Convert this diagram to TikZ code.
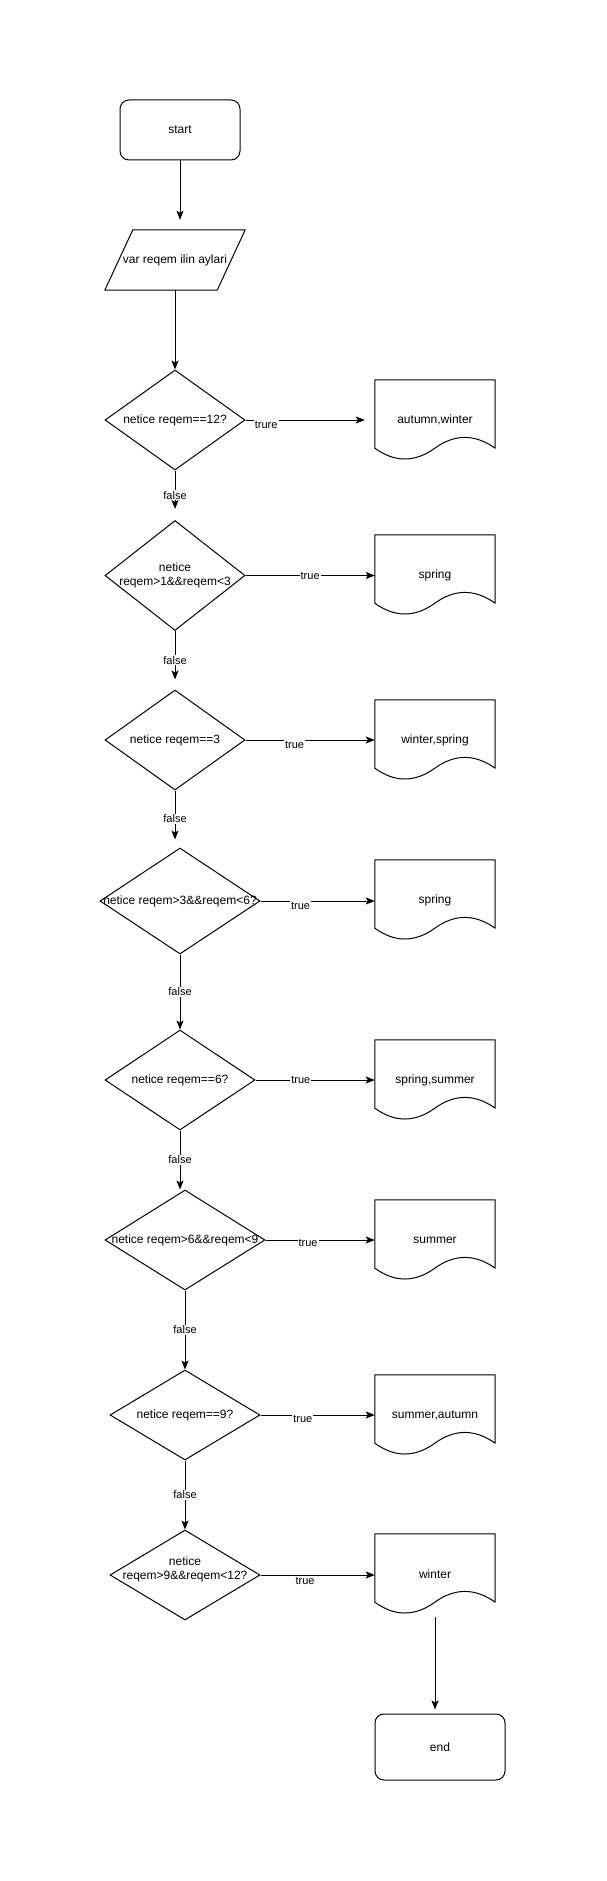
\documentclass[tikz,border=0pt]{standalone}
\usepackage{fontspec}
\setmainfont{Liberation Sans}
\usetikzlibrary{arrows.meta, calc, shapes.geometric}
\tikzset{
  flowtext/.style   = {font=\fontsize{12}{14}\selectfont, align=center, inner sep=0pt},
  flowterm/.style   = {draw, line width=1pt, rounded corners=9pt, flowtext},
  flowinput/.style  = {minimum width=140pt, minimum height=60pt, flowtext},
  flowdecide/.style 2 args = {diamond, draw, line width=1pt, inner sep=0pt,
                       minimum width=#1, minimum height=#2},
  flowdoc/.style    = {minimum width=120pt, minimum height=80pt, flowtext},
  docline/.style    = {draw, line width=1pt, line join=round},
  flowedge/.style   = {draw, line width=1pt,
                       -{Stealth[length=9pt, width=7pt, inset=2pt]}},
  flowlabel/.style  = {fill=white, inner sep=1pt, font=\fontsize{11}{13}\selectfont},
}

\begin{document}
\begin{tikzpicture}[x=1pt, y=-1pt]
  \useasboundingbox (0,0) rectangle (606,1881);
  % start and input
  \node[flowterm, minimum width=120pt, minimum height=60pt] (start) at (180,130) {start};
  \node[flowinput] (input) at (175,260) {var reqem ilin aylari};
  \draw[docline] ($(input.north west)+(28pt,0pt)$) -- (input.north east)
    -- ($(input.south east)+(-28pt,0pt)$) -- (input.south west) -- cycle;
  % decisions
  \node[flowdecide={140pt}{100pt}, label={[flowtext]center:netice reqem==12?}] (D1) at (175,420) {};
  \node[flowdecide={140pt}{110pt}, label={[flowtext]center:{netice\\reqem>1\&\&reqem<3}}] (D2) at (175,575.5) {};
  \node[flowdecide={140pt}{100pt}, label={[flowtext]center:netice reqem==3}] (D3) at (175,740) {};
  \node[flowdecide={160pt}{106pt}, label={[flowtext]center:{netice reqem>3\&\&reqem<6?}}] (D4) at (180,901) {};
  \node[flowdecide={150pt}{100pt}, label={[flowtext]center:netice reqem==6?}] (D5) at (180,1080) {};
  \node[flowdecide={160pt}{100pt}, label={[flowtext]center:{netice reqem>6\&\&reqem<9}}] (D6) at (185,1240) {};
  \node[flowdecide={150pt}{90pt}, label={[flowtext]center:netice reqem==9?}] (D7) at (185,1415) {};
  \node[flowdecide={150pt}{90pt}, label={[flowtext, yshift=6pt]center:{netice\\reqem>9\&\&reqem<12?}}] (D8) at (185,1575) {};
  % documents
  \node[flowdoc] (W1) at (435,420) {autumn,winter};
  \node[flowdoc] (W2) at (435,575) {spring};
  \node[flowdoc] (W3) at (435,740) {winter,spring};
  \node[flowdoc] (W4) at (435,900) {spring};
  \node[flowdoc] (W5) at (435,1080) {spring,summer};
  \node[flowdoc] (W6) at (435,1240) {summer};
  \node[flowdoc] (W7) at (435,1415) {summer,autumn};
  \node[flowdoc] (W8) at (435,1574) {winter};
  \foreach \d in {W1,W2,W3,W4,W5,W6,W7,W8}
    \draw[docline] (\d.north west) -- (\d.north east) -- ($(\d.south east)+(0pt,12pt)$)
      .. controls ($(\d.south west)+(100pt,26.4pt)$) and ($(\d.south west)+(80pt,26.4pt)$)
      .. ($(\d.south west)+(60pt,12pt)$)
      .. controls ($(\d.south west)+(40pt,-2.4pt)$) and ($(\d.south west)+(20pt,-2.4pt)$)
      .. ($(\d.south west)+(0pt,12pt)$) -- cycle;
  \node[flowterm, minimum width=130pt, minimum height=66pt] (stop) at (440,1747) {end};
  % connectors
  \draw[flowedge, shorten >=10pt] (start.south) -- (start.south |- input.north);
  \draw[flowedge] (input.south) -- (D1.north);
  \draw[flowedge, shorten >=11pt] (D1.south) -- node[flowlabel]{false} (D2.north);
  \draw[flowedge, shorten >=10pt] (D2.south) -- node[flowlabel]{false} (D3.north);
  \draw[flowedge, shorten >=8pt] (D3.south) -- node[flowlabel]{false} (D3.south |- D4.north);
  \draw[flowedge] (D4.south) -- node[flowlabel]{false} (D5.north);
  \draw[flowedge] (D5.south) -- node[flowlabel]{false} (D5.south |- D6.north);
  \draw[flowedge] (D6.south) -- node[flowlabel]{false} (D7.north);
  \draw[flowedge] (D7.south) -- node[flowlabel]{false} (D8.north);
  \draw[flowedge, shorten >=10pt] (D1.east) -- node[flowlabel, pos=0.16, yshift=-5pt]{trure} (D1.east -| W1.west);
  \draw[flowedge] (D2.east) -- node[flowlabel]{true} (D2.east -| W2.west);
  \draw[flowedge] (D3.east) -- node[flowlabel, pos=0.38, yshift=-5pt]{true} (D3.east -| W3.west);
  \draw[flowedge] (D4.east) -- node[flowlabel, pos=0.35, yshift=-5pt]{true} (D4.east -| W4.west);
  \draw[flowedge] (D5.east) -- node[flowlabel, pos=0.38]{true} (D5.east -| W5.west);
  \draw[flowedge] (D6.east) -- node[flowlabel, pos=0.39, yshift=-3pt]{true} (D6.east -| W6.west);
  \draw[flowedge] (D7.east) -- node[flowlabel, pos=0.37, yshift=-4pt]{true} (D7.east -| W7.west);
  \draw[flowedge] (D8.east) -- node[flowlabel, pos=0.39, yshift=-6pt]{true} (D8.east -| W8.west);
  \draw[flowedge, shorten <=3pt, shorten >=4pt] (W8.south) -- (W8.south |- stop.north);
\end{tikzpicture}
\end{document}
